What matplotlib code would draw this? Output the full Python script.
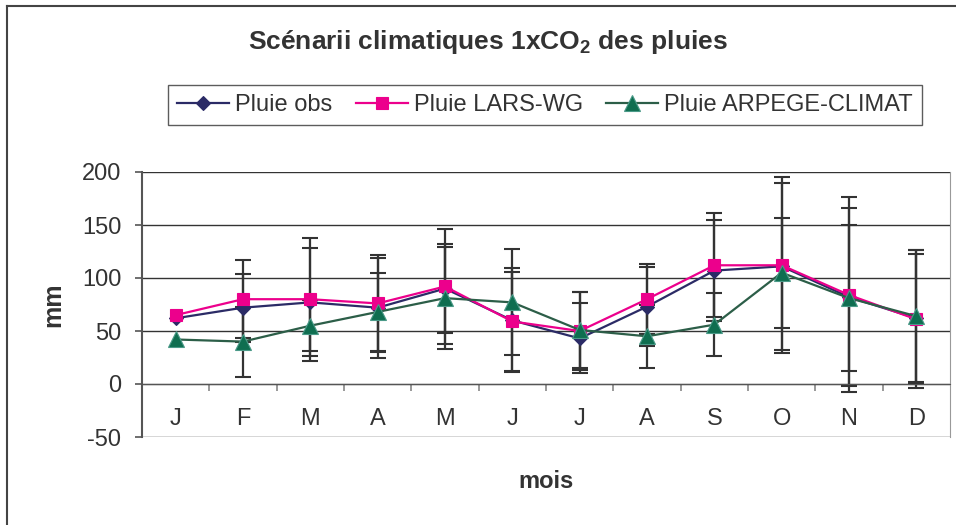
import numpy as np
import matplotlib
matplotlib.use("Agg")
import matplotlib.pyplot as plt
from matplotlib.lines import Line2D

plt.rcParams['font.family'] = ['Liberation Sans', 'DejaVu Sans']
plt.rcParams['axes.unicode_minus'] = False
plt.rcParams['mathtext.fontset'] = 'custom'
plt.rcParams['mathtext.rm'] = 'Liberation Sans:bold'
plt.rcParams['mathtext.it'] = 'Liberation Sans:bold'
plt.rcParams['mathtext.bf'] = 'Liberation Sans:bold'

# données (mm)
mois = ['J', 'F', 'M', 'A', 'M', 'J', 'J', 'A', 'S', 'O', 'N', 'D']
pluie_obs = [62, 72, 77, 72, 90, 60, 43, 73, 107, 111, 82, 62]
pluie_lars = [65, 80, 80, 76, 92, 59, 50, 80, 112, 112, 84, 61]
pluie_arpege = [42, 40, 55, 68, 81, 77, 51, 45, 56, 105, 81, 64]

# écarts (barres d'erreur), pas de barre pour janvier
err_obs = [np.nan, 32, 51, 47, 42, 49, 33, 37, 48, 79, 84, 61]
err_lars = [np.nan, 37, 58, 46, 54, 47, 37, 33, 49, 83, 92, 65]
err_arpege = [np.nan, 33, 24, 37, 48, 50, 36, 30, 30, 52, 69, 62]

txt = '#333333'
W, H = 956, 525
fig = plt.figure(figsize=(W / 100, H / 100), dpi=100)
ax = fig.add_axes([142 / W, 1 - 437 / H, (950 - 142) / W, (437 - 172) / H])

x = np.arange(len(mois))
series = [
    (pluie_obs, err_obs, 'Pluie obs', '#2B2B66', 'D', 7, '#2B2B66', '#2B2B66'),
    (pluie_lars, err_lars, 'Pluie LARS-WG', '#EC008C', 's', 9, '#EC008C', '#EC008C'),
    (pluie_arpege, err_arpege, 'Pluie ARPEGE-CLIMAT', '#2C5E48', '^', 11, '#0F6E50', '#4A9A88'),
]

for vals, err, lab, col, mk, ms, fc, ec in series:
    ax.errorbar(x, vals, yerr=err, fmt='none', ecolor='#333333', elinewidth=1.6,
                capsize=5.5, capthick=1.5, zorder=2)

handles = []
for vals, err, lab, col, mk, ms, fc, ec in series:
    h, = ax.plot(x, vals, color=col, lw=1.6, marker=mk, markersize=ms,
                 markerfacecolor=fc, markeredgecolor=ec, markeredgewidth=0.8,
                 label=lab, zorder=3)
    handles.append(h)

ax.set_xlim(-0.5, 11.5)
ax.set_ylim(-50, 200)
ax.set_yticks(np.arange(-50, 201, 50))
ax.yaxis.grid(True, color='#333333', lw=1.0)
ax.set_axisbelow(True)

ax.spines['bottom'].set_position(('data', 0))
ax.spines['bottom'].set_color('#555555')
ax.spines['left'].set_color('#555555')
ax.spines['left'].set_linewidth(1.5)
ax.spines['right'].set_color('#999999')
ax.spines['top'].set_visible(False)

ax.set_xticks(x)
ax.set_xticklabels(mois)
ax.set_xticks(np.arange(0.5, 11, 1), minor=True)
ax.tick_params(axis='x', which='major', length=0, pad=17, labelsize=17, labelcolor=txt)
ax.tick_params(axis='x', which='minor', length=5, color='#888888', width=1.2)
ax.tick_params(axis='y', length=5, pad=10, labelsize=17, labelcolor=txt, color='#555555', width=1.2)

fig.text(488 / W, 1 - 42 / H, r'Scénarii climatiques 1xCO$_{\mathrm{2}}$ des pluies',
         ha='center', va='center', fontsize=19, fontweight='bold', color=txt)
fig.text(53 / W, 1 - 305 / H, 'mm', rotation=90, ha='center', va='center',
         fontsize=18, fontweight='bold', color=txt)
fig.text(546 / W, 1 - 482 / H, 'mois', ha='center', va='center',
         fontsize=17, fontweight='bold', color=txt)

leg = fig.legend(handles=handles, loc='center', bbox_to_anchor=(545 / W, 1 - 105 / H),
                 ncol=3, fontsize=17, frameon=True, fancybox=False, edgecolor='#333333',
                 handlelength=2.2, handletextpad=0.25, columnspacing=1.0,
                 borderpad=0.4, labelcolor=txt)
leg.get_frame().set_linewidth(1.0)

# cadre du graphique
fig.add_artist(Line2D([7 / W, 7 / W], [0, 1 - 6 / H], transform=fig.transFigure,
                      color='#444444', lw=1.5))
fig.add_artist(Line2D([7 / W, 1], [1 - 6 / H, 1 - 6 / H], transform=fig.transFigure,
                      color='#444444', lw=1.5))

fig.savefig('out.png', dpi=100)
